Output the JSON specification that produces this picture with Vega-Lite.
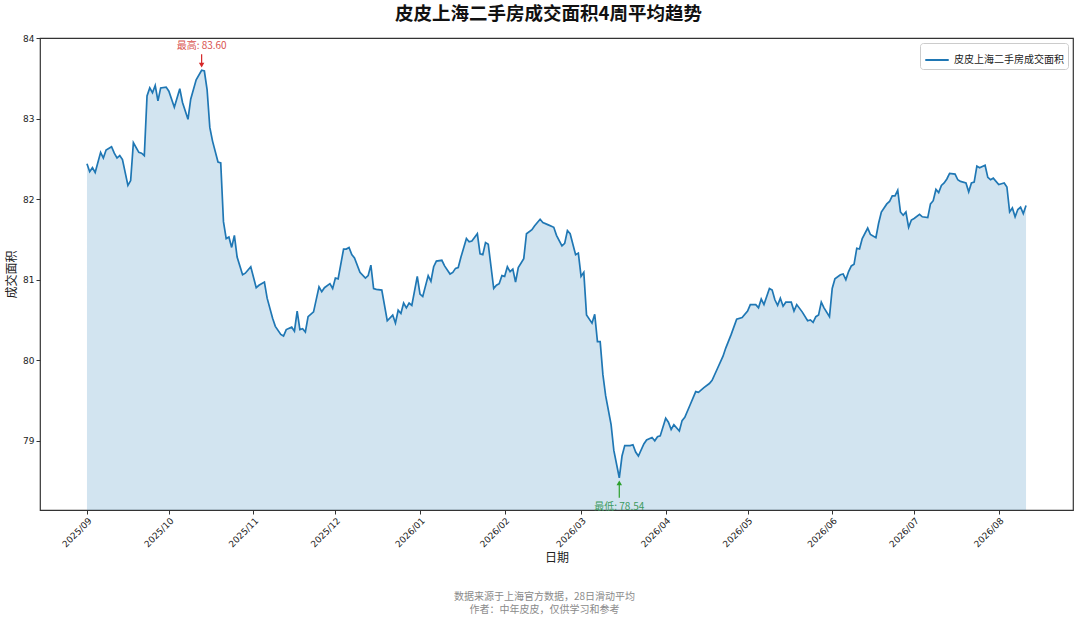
{
  "$schema": "https://vega.github.io/schema/vega-lite/v6.json",
  "autosize": {"type": "none"},
  "padding": {"left": 40, "top": 38, "right": 7, "bottom": 111},
  "width": 1033,
  "height": 472,
  "background": "white",
  "title": {
    "text": "皮皮上海二手房成交面积4周平均趋势",
    "font": "Noto Sans CJK SC",
    "fontSize": 18.5,
    "fontWeight": "bold",
    "color": "#111111",
    "anchor": "middle",
    "dx": -8,
    "offset": 11
  },
  "data": {
    "format": {"parse": {"date": "date:'%Y-%m-%d'"}},
    "values": [
      {"date": "2025-09-01", "value": 82.44}, {"date": "2025-09-02", "value": 82.34}, {"date": "2025-09-03", "value": 82.39}, {"date": "2025-09-04", "value": 82.33},
      {"date": "2025-09-06", "value": 82.58}, {"date": "2025-09-07", "value": 82.51}, {"date": "2025-09-08", "value": 82.61}, {"date": "2025-09-10", "value": 82.65},
      {"date": "2025-09-11", "value": 82.57}, {"date": "2025-09-12", "value": 82.51}, {"date": "2025-09-13", "value": 82.54}, {"date": "2025-09-14", "value": 82.49},
      {"date": "2025-09-16", "value": 82.17}, {"date": "2025-09-17", "value": 82.23}, {"date": "2025-09-18", "value": 82.70}, {"date": "2025-09-20", "value": 82.58},
      {"date": "2025-09-21", "value": 82.57}, {"date": "2025-09-22", "value": 82.54}, {"date": "2025-09-23", "value": 83.28}, {"date": "2025-09-24", "value": 83.38},
      {"date": "2025-09-25", "value": 83.32}, {"date": "2025-09-26", "value": 83.41}, {"date": "2025-09-27", "value": 83.22}, {"date": "2025-09-28", "value": 83.38},
      {"date": "2025-09-30", "value": 83.39}, {"date": "2025-10-01", "value": 83.34}, {"date": "2025-10-03", "value": 83.14}, {"date": "2025-10-05", "value": 83.37},
      {"date": "2025-10-06", "value": 83.20}, {"date": "2025-10-08", "value": 82.99}, {"date": "2025-10-09", "value": 83.24}, {"date": "2025-10-11", "value": 83.48},
      {"date": "2025-10-13", "value": 83.60}, {"date": "2025-10-14", "value": 83.59}, {"date": "2025-10-15", "value": 83.36}, {"date": "2025-10-16", "value": 82.89},
      {"date": "2025-10-17", "value": 82.72}, {"date": "2025-10-19", "value": 82.46}, {"date": "2025-10-20", "value": 82.45}, {"date": "2025-10-21", "value": 81.72},
      {"date": "2025-10-22", "value": 81.51}, {"date": "2025-10-23", "value": 81.53}, {"date": "2025-10-24", "value": 81.40}, {"date": "2025-10-25", "value": 81.55},
      {"date": "2025-10-26", "value": 81.28}, {"date": "2025-10-28", "value": 81.06}, {"date": "2025-10-29", "value": 81.08}, {"date": "2025-10-31", "value": 81.16},
      {"date": "2025-11-02", "value": 80.90}, {"date": "2025-11-03", "value": 80.93}, {"date": "2025-11-05", "value": 80.97}, {"date": "2025-11-06", "value": 80.77},
      {"date": "2025-11-08", "value": 80.52}, {"date": "2025-11-09", "value": 80.42}, {"date": "2025-11-11", "value": 80.32}, {"date": "2025-11-12", "value": 80.30},
      {"date": "2025-11-13", "value": 80.38}, {"date": "2025-11-15", "value": 80.41}, {"date": "2025-11-16", "value": 80.36}, {"date": "2025-11-17", "value": 80.61},
      {"date": "2025-11-18", "value": 80.38}, {"date": "2025-11-19", "value": 80.39}, {"date": "2025-11-20", "value": 80.35}, {"date": "2025-11-21", "value": 80.54},
      {"date": "2025-11-23", "value": 80.60}, {"date": "2025-11-25", "value": 80.91}, {"date": "2025-11-26", "value": 80.85}, {"date": "2025-11-27", "value": 80.90},
      {"date": "2025-11-29", "value": 80.95}, {"date": "2025-11-30", "value": 80.89}, {"date": "2025-12-01", "value": 81.02}, {"date": "2025-12-02", "value": 81.01},
      {"date": "2025-12-04", "value": 81.38}, {"date": "2025-12-05", "value": 81.38}, {"date": "2025-12-06", "value": 81.40}, {"date": "2025-12-07", "value": 81.31},
      {"date": "2025-12-08", "value": 81.27}, {"date": "2025-12-10", "value": 81.09}, {"date": "2025-12-12", "value": 81.02}, {"date": "2025-12-13", "value": 81.05},
      {"date": "2025-12-14", "value": 81.18}, {"date": "2025-12-15", "value": 80.89}, {"date": "2025-12-16", "value": 80.88}, {"date": "2025-12-18", "value": 80.87},
      {"date": "2025-12-20", "value": 80.49}, {"date": "2025-12-22", "value": 80.56}, {"date": "2025-12-23", "value": 80.46}, {"date": "2025-12-24", "value": 80.62},
      {"date": "2025-12-25", "value": 80.58}, {"date": "2025-12-26", "value": 80.71}, {"date": "2025-12-27", "value": 80.65}, {"date": "2025-12-28", "value": 80.71},
      {"date": "2025-12-29", "value": 80.68}, {"date": "2025-12-31", "value": 81.04}, {"date": "2026-01-01", "value": 80.82}, {"date": "2026-01-02", "value": 80.79},
      {"date": "2026-01-04", "value": 81.05}, {"date": "2026-01-05", "value": 80.98}, {"date": "2026-01-06", "value": 81.16}, {"date": "2026-01-07", "value": 81.23},
      {"date": "2026-01-09", "value": 81.24}, {"date": "2026-01-10", "value": 81.17}, {"date": "2026-01-12", "value": 81.07}, {"date": "2026-01-13", "value": 81.09},
      {"date": "2026-01-14", "value": 81.14}, {"date": "2026-01-15", "value": 81.15}, {"date": "2026-01-16", "value": 81.28}, {"date": "2026-01-18", "value": 81.51},
      {"date": "2026-01-19", "value": 81.47}, {"date": "2026-01-20", "value": 81.48}, {"date": "2026-01-22", "value": 81.57}, {"date": "2026-01-23", "value": 81.32},
      {"date": "2026-01-24", "value": 81.31}, {"date": "2026-01-25", "value": 81.46}, {"date": "2026-01-26", "value": 81.44}, {"date": "2026-01-28", "value": 80.89},
      {"date": "2026-01-29", "value": 80.93}, {"date": "2026-01-30", "value": 80.95}, {"date": "2026-01-31", "value": 81.05}, {"date": "2026-02-01", "value": 81.04},
      {"date": "2026-02-02", "value": 81.16}, {"date": "2026-02-03", "value": 81.10}, {"date": "2026-02-04", "value": 81.13}, {"date": "2026-02-05", "value": 80.97},
      {"date": "2026-02-06", "value": 81.15}, {"date": "2026-02-08", "value": 81.26}, {"date": "2026-02-09", "value": 81.57}, {"date": "2026-02-11", "value": 81.62},
      {"date": "2026-02-12", "value": 81.67}, {"date": "2026-02-14", "value": 81.75}, {"date": "2026-02-15", "value": 81.71}, {"date": "2026-02-17", "value": 81.68},
      {"date": "2026-02-19", "value": 81.65}, {"date": "2026-02-20", "value": 81.55}, {"date": "2026-02-22", "value": 81.42}, {"date": "2026-02-23", "value": 81.45},
      {"date": "2026-02-24", "value": 81.61}, {"date": "2026-02-25", "value": 81.57}, {"date": "2026-02-27", "value": 81.31}, {"date": "2026-02-28", "value": 81.33},
      {"date": "2026-03-01", "value": 81.04}, {"date": "2026-03-02", "value": 81.09}, {"date": "2026-03-03", "value": 80.56}, {"date": "2026-03-05", "value": 80.46},
      {"date": "2026-03-06", "value": 80.57}, {"date": "2026-03-07", "value": 80.23}, {"date": "2026-03-08", "value": 80.23}, {"date": "2026-03-09", "value": 79.82},
      {"date": "2026-03-10", "value": 79.56}, {"date": "2026-03-12", "value": 79.20}, {"date": "2026-03-13", "value": 78.88}, {"date": "2026-03-15", "value": 78.54},
      {"date": "2026-03-16", "value": 78.81}, {"date": "2026-03-17", "value": 78.94}, {"date": "2026-03-19", "value": 78.94}, {"date": "2026-03-20", "value": 78.95},
      {"date": "2026-03-21", "value": 78.86}, {"date": "2026-03-22", "value": 78.81}, {"date": "2026-03-24", "value": 78.96}, {"date": "2026-03-25", "value": 79.01},
      {"date": "2026-03-27", "value": 79.04}, {"date": "2026-03-28", "value": 79.00}, {"date": "2026-03-29", "value": 79.05}, {"date": "2026-03-30", "value": 79.06},
      {"date": "2026-04-01", "value": 79.28}, {"date": "2026-04-02", "value": 79.23}, {"date": "2026-04-03", "value": 79.14}, {"date": "2026-04-04", "value": 79.20},
      {"date": "2026-04-06", "value": 79.12}, {"date": "2026-04-07", "value": 79.25}, {"date": "2026-04-08", "value": 79.29}, {"date": "2026-04-10", "value": 79.45},
      {"date": "2026-04-12", "value": 79.61}, {"date": "2026-04-13", "value": 79.60}, {"date": "2026-04-15", "value": 79.66}, {"date": "2026-04-17", "value": 79.71},
      {"date": "2026-04-18", "value": 79.75}, {"date": "2026-04-20", "value": 79.90}, {"date": "2026-04-22", "value": 80.05}, {"date": "2026-04-23", "value": 80.15},
      {"date": "2026-04-25", "value": 80.32}, {"date": "2026-04-27", "value": 80.51}, {"date": "2026-04-29", "value": 80.53}, {"date": "2026-05-01", "value": 80.61},
      {"date": "2026-05-02", "value": 80.69}, {"date": "2026-05-04", "value": 80.69}, {"date": "2026-05-05", "value": 80.65}, {"date": "2026-05-06", "value": 80.76},
      {"date": "2026-05-07", "value": 80.69}, {"date": "2026-05-09", "value": 80.89}, {"date": "2026-05-10", "value": 80.87}, {"date": "2026-05-11", "value": 80.75},
      {"date": "2026-05-12", "value": 80.68}, {"date": "2026-05-13", "value": 80.77}, {"date": "2026-05-14", "value": 80.67}, {"date": "2026-05-15", "value": 80.72},
      {"date": "2026-05-17", "value": 80.72}, {"date": "2026-05-18", "value": 80.61}, {"date": "2026-05-19", "value": 80.69}, {"date": "2026-05-21", "value": 80.60},
      {"date": "2026-05-23", "value": 80.49}, {"date": "2026-05-24", "value": 80.50}, {"date": "2026-05-25", "value": 80.47}, {"date": "2026-05-26", "value": 80.54},
      {"date": "2026-05-27", "value": 80.56}, {"date": "2026-05-28", "value": 80.72}, {"date": "2026-05-29", "value": 80.65}, {"date": "2026-05-31", "value": 80.54},
      {"date": "2026-06-01", "value": 80.89}, {"date": "2026-06-02", "value": 81.01}, {"date": "2026-06-04", "value": 81.06}, {"date": "2026-06-05", "value": 81.07},
      {"date": "2026-06-06", "value": 81.00}, {"date": "2026-06-07", "value": 81.10}, {"date": "2026-06-08", "value": 81.17}, {"date": "2026-06-09", "value": 81.19},
      {"date": "2026-06-10", "value": 81.39}, {"date": "2026-06-11", "value": 81.38}, {"date": "2026-06-12", "value": 81.51}, {"date": "2026-06-14", "value": 81.64},
      {"date": "2026-06-15", "value": 81.56}, {"date": "2026-06-17", "value": 81.52}, {"date": "2026-06-18", "value": 81.70}, {"date": "2026-06-19", "value": 81.84},
      {"date": "2026-06-21", "value": 81.94}, {"date": "2026-06-22", "value": 81.97}, {"date": "2026-06-23", "value": 82.04}, {"date": "2026-06-24", "value": 82.04},
      {"date": "2026-06-25", "value": 82.11}, {"date": "2026-06-26", "value": 81.84}, {"date": "2026-06-27", "value": 81.80}, {"date": "2026-06-28", "value": 81.84},
      {"date": "2026-06-29", "value": 81.65}, {"date": "2026-06-30", "value": 81.74}, {"date": "2026-07-01", "value": 81.76}, {"date": "2026-07-03", "value": 81.81},
      {"date": "2026-07-04", "value": 81.78}, {"date": "2026-07-06", "value": 81.77}, {"date": "2026-07-07", "value": 81.94}, {"date": "2026-07-08", "value": 81.98},
      {"date": "2026-07-09", "value": 82.12}, {"date": "2026-07-10", "value": 82.08}, {"date": "2026-07-11", "value": 82.17}, {"date": "2026-07-12", "value": 82.20},
      {"date": "2026-07-13", "value": 82.25}, {"date": "2026-07-14", "value": 82.32}, {"date": "2026-07-16", "value": 82.31}, {"date": "2026-07-17", "value": 82.24},
      {"date": "2026-07-18", "value": 82.22}, {"date": "2026-07-20", "value": 82.20}, {"date": "2026-07-21", "value": 82.09}, {"date": "2026-07-22", "value": 82.20},
      {"date": "2026-07-23", "value": 82.21}, {"date": "2026-07-24", "value": 82.41}, {"date": "2026-07-25", "value": 82.39}, {"date": "2026-07-27", "value": 82.42},
      {"date": "2026-07-28", "value": 82.27}, {"date": "2026-07-29", "value": 82.24}, {"date": "2026-07-30", "value": 82.26}, {"date": "2026-08-01", "value": 82.18},
      {"date": "2026-08-02", "value": 82.19}, {"date": "2026-08-03", "value": 82.20}, {"date": "2026-08-04", "value": 82.15}, {"date": "2026-08-05", "value": 81.84},
      {"date": "2026-08-06", "value": 81.89}, {"date": "2026-08-07", "value": 81.78}, {"date": "2026-08-08", "value": 81.87}, {"date": "2026-08-09", "value": 81.90},
      {"date": "2026-08-10", "value": 81.82}, {"date": "2026-08-11", "value": 81.92}
    ]
  },
  "encoding": {
    "x": {
      "field": "date",
      "type": "temporal",
      "title": "日期",
      "scale": {
        "domain": [
          {"year": 2025, "month": 8, "date": 14, "hours": 19},
          {"year": 2026, "month": 8, "date": 28, "hours": 5}
        ]
      },
      "axis": {
        "format": "%Y/%m",
        "tickCount": {"interval": "month", "step": 1},
        "labelAngle": -45,
        "labelAlign": "right",
        "labelBaseline": "top",
        "labelPadding": 2,
        "labelFlush": false,
        "labelOverlap": false,
        "titlePadding": 4
      }
    },
    "y": {
      "field": "value",
      "type": "quantitative",
      "title": "成交面积",
      "scale": {"domain": [78.14, 84.0], "nice": false, "zero": false},
      "axis": {"values": [79, 80, 81, 82, 83, 84], "titlePadding": 4}
    }
  },
  "layer": [
    {
      "mark": {"type": "area", "color": "#1f77b4", "opacity": 0.2, "clip": true}
    },
    {
      "mark": {"type": "line", "strokeWidth": 1.7},
      "encoding": {
        "color": {
          "datum": "皮皮上海二手房成交面积",
          "scale": {"range": ["#1f77b4"]},
          "legend": {
            "title": null,
            "orient": "top-right",
            "offset": 5,
            "symbolType": "stroke",
            "symbolSize": 550,
            "symbolStrokeWidth": 2,
            "labelFont": "Noto Sans CJK SC",
            "labelFontSize": 10,
            "labelColor": "#222222",
            "fillColor": "white",
            "strokeColor": "#cccccc",
            "cornerRadius": 3,
            "padding": 4
          }
        }
      }
    },
    {
      "transform": [
        {"joinaggregate": [{"op": "max", "field": "value", "as": "vmax"}]},
        {"filter": "datum.value === datum.vmax"},
        {"calculate": "'最高: ' + format(datum.value, '.2f')", "as": "label"}
      ],
      "layer": [
        {"mark": {"type": "rule", "color": "#d62728", "strokeWidth": 1.2, "yOffset": -16, "y2Offset": -5}, "encoding": {"y2": {"field": "value"}}},
        {"mark": {"type": "point", "shape": "triangle-down", "filled": true, "color": "#d62728", "opacity": 1, "size": 30, "yOffset": -5}},
        {"mark": {"type": "text", "color": "#d9534f", "font": "Noto Sans CJK SC", "fontSize": 10, "dy": -24, "baseline": "middle"}, "encoding": {"text": {"field": "label"}}}
      ]
    },
    {
      "transform": [
        {"joinaggregate": [{"op": "min", "field": "value", "as": "vmin"}]},
        {"filter": "datum.value === datum.vmin"},
        {"calculate": "'最低: ' + format(datum.value, '.2f')", "as": "label"}
      ],
      "layer": [
        {"mark": {"type": "rule", "color": "#2ca02c", "strokeWidth": 1.2, "yOffset": 20, "y2Offset": 5}, "encoding": {"y2": {"field": "value"}}},
        {"mark": {"type": "point", "shape": "triangle-up", "filled": true, "color": "#2ca02c", "opacity": 1, "size": 30, "yOffset": 5}},
        {"mark": {"type": "text", "color": "#3c9a5f", "font": "Noto Sans CJK SC", "fontSize": 10, "dy": 29, "baseline": "middle"}, "encoding": {"text": {"field": "label"}}}
      ]
    },
    {
      "data": {"values": [{"note": "数据来源于上海官方数据，28日滑动平均\n作者：中年皮皮，仅供学习和参考"}]},
      "mark": {
        "type": "text",
        "x": {"expr": "width / 2 - 12"},
        "y": {"expr": "height + 82"},
        "align": "center",
        "baseline": "top",
        "lineBreak": "\n",
        "lineHeight": 13,
        "font": "Noto Sans CJK SC",
        "fontSize": 10,
        "color": "#8a8a8a"
      },
      "encoding": {"text": {"field": "note"}, "x": null, "y": null}
    }
  ],
  "config": {
    "view": {"fill": "#f0f8ff", "stroke": "#333333", "strokeWidth": 1.2},
    "axis": {
      "domain": false,
      "ticks": true,
      "tickColor": "#333333",
      "tickSize": 4,
      "labelFont": "DejaVu Sans",
      "labelFontSize": 9,
      "labelColor": "#222222",
      "titleFont": "Noto Sans CJK SC",
      "titleFontSize": 12,
      "titleFontWeight": "normal",
      "titleColor": "#222222",
      "grid": false
    }
  }
}
